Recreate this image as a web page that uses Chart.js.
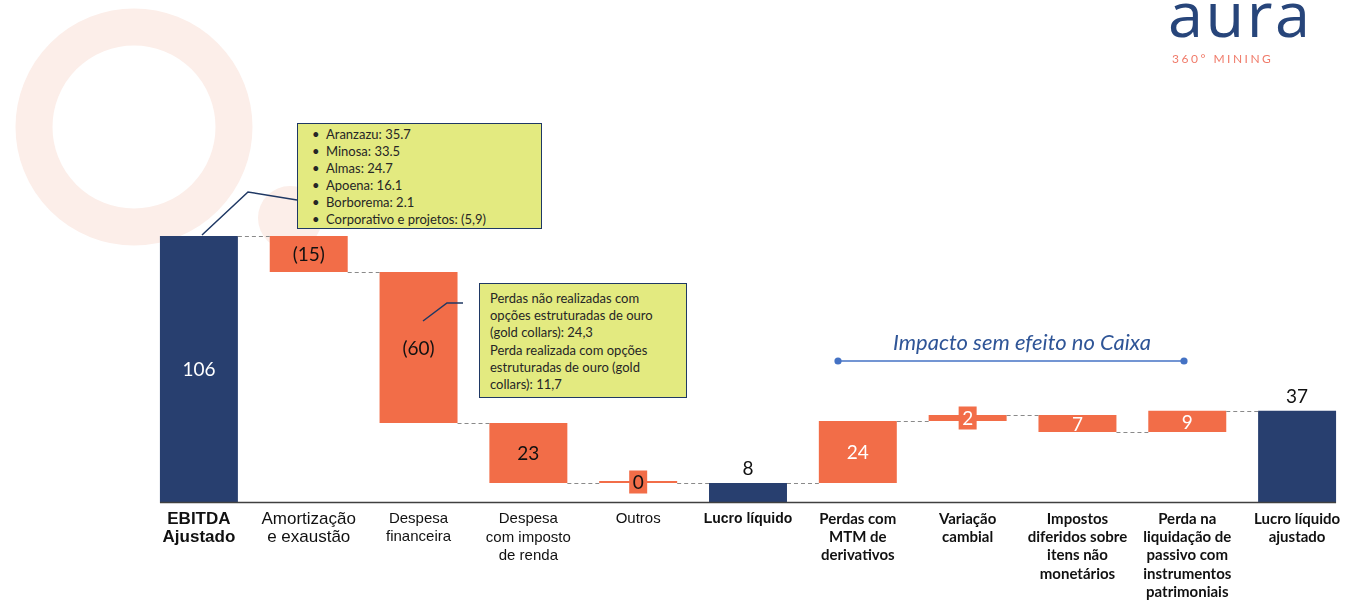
<!DOCTYPE html>
<html><head><meta charset="utf-8">
<script src="https://cdn.jsdelivr.net/npm/chart.js@4/dist/chart.umd.min.js"></script>
<style>
html,body{margin:0;padding:0;background:#fff;}
#wrap{position:relative;width:1353px;height:601px;overflow:hidden;background:#fff;}
.layer{position:absolute;left:0;top:0;}
#c{position:absolute;left:0;top:0;}
.note{position:absolute;background:#E3EA80;border:1.5px solid #1F3864;font-family:Lato,'Open Sans',sans-serif;font-size:13px;line-height:17px;color:#262626;box-sizing:border-box;white-space:nowrap;}
.note .li{position:relative;padding-left:28px;}
.note .li:before{content:"\2022";position:absolute;left:14px;}
</style></head>
<body>
<div id="wrap">
<svg class="layer" width="1353" height="601" style="z-index:0">
  <circle cx="134" cy="127" r="100" fill="none" stroke="#FCEEE9" stroke-width="37"/>
  <circle cx="290" cy="218" r="32" fill="#FCEEE9"/>
</svg>
<canvas id="c" width="1353" height="601" style="z-index:1"></canvas>
<svg class="layer" width="1353" height="601" style="z-index:2">
  <text x="1168" y="37" font-family="'Open Sans', Lato, sans-serif" font-weight="400" font-size="63" fill="#27457A" letter-spacing="2.5">aura</text>
  <text x="1172" y="63" font-family="Lato, 'Open Sans', sans-serif" font-size="12" fill="#F07B6A" letter-spacing="2.5">360° MINING</text>
  <polyline points="202,235 248,192 297,200" fill="none" stroke="#1F3864" stroke-width="1.5"/>
  <polyline points="423,321 447,303 463,303" fill="none" stroke="#1F3864" stroke-width="1.5"/>
  <text x="1022" y="350" text-anchor="middle" font-family="Lato, 'Open Sans', sans-serif" font-style="italic" font-size="22" fill="#2F5597">Impacto sem efeito no Caixa</text>
  <line x1="838" y1="361" x2="1184" y2="361" stroke="#4472C4" stroke-width="1.3"/>
  <circle cx="838" cy="361" r="3.6" fill="#4472C4"/>
  <circle cx="1184" cy="361" r="3.6" fill="#4472C4"/>
</svg>
<div class="note" style="left:297px;top:123px;width:245px;height:106px;padding-top:2px;z-index:3">
  <div class="li">Aranzazu: 35.7</div>
  <div class="li">Minosa: 33.5</div>
  <div class="li">Almas: 24.7</div>
  <div class="li">Apoena: 16.1</div>
  <div class="li">Borborema: 2.1</div>
  <div class="li">Corporativo e projetos: (5,9)</div>
</div>
<div class="note" style="left:479px;top:283px;width:208px;height:115px;padding:6px 0 0 10px;line-height:17.2px;z-index:3">
Perdas não realizadas com<br>opções estruturadas de ouro<br>(gold collars): 24,3<br>Perda realizada com opções<br>estruturadas de ouro (gold<br>collars): 11,7
</div>
</div>
<script>
// ---- data ----
const categories = [
  ['EBITDA','Ajustado'],
  ['Amortização','e exaustão'],
  ['Despesa','financeira'],
  ['Despesa','com imposto','de renda'],
  ['Outros'],
  ['Lucro líquido'],
  ['Perdas com','MTM de','derivativos'],
  ['Variação','cambial'],
  ['Impostos','diferidos sobre','itens não','monetários'],
  ['Perda na','liquidação de','passivo com','instrumentos','patrimoniais'],
  ['Lucro líquido','ajustado']
];
const stepValues = [106.4, -14.4, -60.4, -24.0, 0, 7.6, 24.8, 2.4, -6.8, 8.5, 36.5];
const isTotal   = [true, false, false, false, false, true, false, false, false, false, true];
const valueLabels = ['106','(15)','(60)','23','0','8','24','2','7','9','37'];

// ---- styling ----
const NAVY = '#283F6F', ORANGE = '#F26D48';
const labelPlacement = ['inW','inK','inK','inK','boxK','above','inW','boxW','inW','inW','above'];
const arial = "'Liberation Sans', Arial, sans-serif";
const calib = "Lato, 'Open Sans', sans-serif";
const tickFonts = [
  {family:arial, size:17, weight:'bold', lineHeight:1.06},
  {family:arial, size:17, weight:'normal', lineHeight:1.06},
  {family:arial, size:15, weight:'normal', lineHeight:1.2},
  {family:arial, size:15, weight:'normal', lineHeight:1.23},
  {family:arial, size:15, weight:'normal', lineHeight:1.2},
  {family:arial, size:14, weight:'bold', lineHeight:1.29},
  {family:calib, size:15, weight:'bold', lineHeight:1.217},
  {family:calib, size:15, weight:'bold', lineHeight:1.217},
  {family:calib, size:15, weight:'bold', lineHeight:1.217},
  {family:calib, size:15, weight:'bold', lineHeight:1.217},
  {family:calib, size:15, weight:'bold', lineHeight:1.217}
];

// floating ranges from the step values
const ranges = [], levels = [];
let run = 0;
stepValues.forEach((v, i) => {
  if (isTotal[i]) { ranges.push([0, v]); run = v; }
  else { ranges.push([run, run + v]); run += v; }
  levels.push(run);
});

const waterfallPlugin = {
  id: 'waterfall',
  afterDatasetsDraw(chart) {
    const ctx = chart.ctx;
    const meta = chart.getDatasetMeta(0);
    const y = chart.scales.y;
    const bars = meta.data;
    ctx.save();
    // axis line
    const y0 = Math.round(y.getPixelForValue(0)) + 0.5;
    ctx.strokeStyle = '#404040'; ctx.lineWidth = 1.5;
    ctx.beginPath();
    ctx.moveTo(bars[0].x - bars[0].width/2, y0);
    ctx.lineTo(bars[bars.length-1].x + bars[bars.length-1].width/2, y0);
    ctx.stroke();
    // connectors
    ctx.strokeStyle = '#8A8A8A'; ctx.lineWidth = 1.2; ctx.setLineDash([4,3]);
    for (let i = 0; i < bars.length - 1; i++) {
      const yy = Math.round(y.getPixelForValue(levels[i])) + 0.5;
      ctx.beginPath();
      ctx.moveTo(bars[i].x + bars[i].width/2, yy);
      ctx.lineTo(bars[i+1].x - bars[i+1].width/2, yy);
      ctx.stroke();
    }
    ctx.setLineDash([]);
    // value labels
    ctx.font = "19px " + calib;
    ctx.textAlign = 'center'; ctx.textBaseline = 'middle';
    bars.forEach((b, i) => {
      const top = Math.min(b.y, b.base), bot = Math.max(b.y, b.base);
      const mode = labelPlacement[i];
      let cx = b.x, cy = (top + bot) / 2;
      if (mode === 'above') cy = top - 15;
      if (mode === 'boxK' || mode === 'boxW') {
        ctx.fillStyle = ORANGE;
        ctx.fillRect(cx - 9, cy - 11.5, 18, 23);
      }
      ctx.fillStyle = (mode === 'inW' || mode === 'boxW') ? '#FFFFFF' : '#111111';
      ctx.fillText(valueLabels[i], cx, cy + 1);
    });
    ctx.restore();
  }
};

new Chart(document.getElementById('c'), {
  type: 'bar',
  data: {
    labels: categories,
    datasets: [{
      data: ranges,
      backgroundColor: isTotal.map(t => t ? NAVY : ORANGE),
      borderWidth: 0,
      barPercentage: 0.71,
      categoryPercentage: 1,
      minBarLength: 2
    }]
  },
  options: {
    responsive: false,
    animation: false,
    devicePixelRatio: 1,
    layout: { padding: { left: 144, right: 1, top: 202, bottom: 0 } },
    plugins: { legend: { display: false }, tooltip: { enabled: false } },
    scales: {
      y: { display: false, min: 0, max: 120 },
      x: {
        grid: { display: false, drawTicks: false },
        border: { display: false },
        ticks: {
          color: '#111111',
          padding: 8,
          maxRotation: 0, minRotation: 0, autoSkip: false,
          font: (c) => tickFonts[c.index] || tickFonts[0]
        },
        afterFit: (s) => { s.height = 99; }
      }
    }
  },
  plugins: [waterfallPlugin]
});
</script>
</body></html>
